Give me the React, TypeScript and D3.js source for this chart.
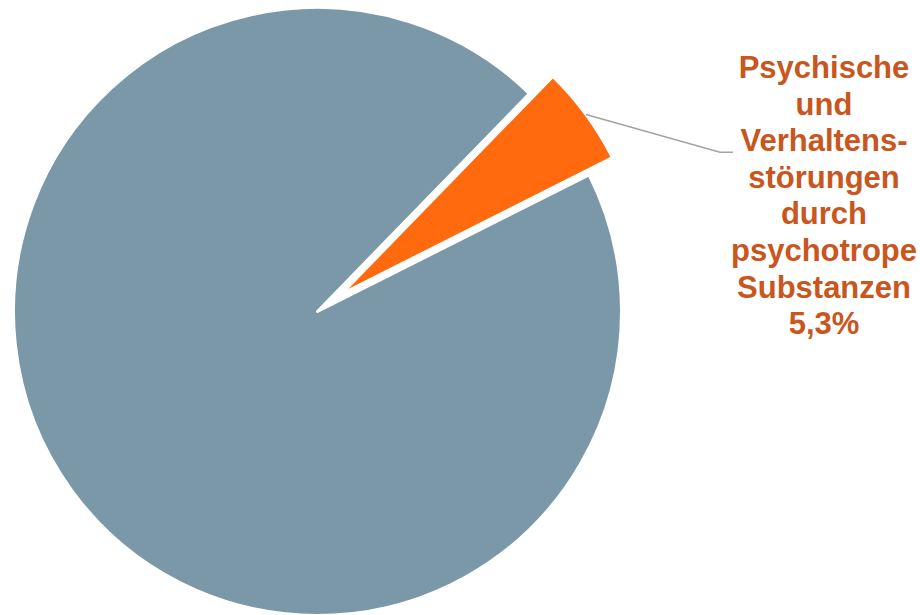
import React from "react";
import * as d3 from "d3";

const categories = ["Übrige", "Psychische und Verhaltensstörungen durch psychotrope Substanzen"];
const values = [94.7, 5.3];
const labelLines = ["Psychische", "und", "Verhaltens-", "störungen", "durch", "psychotrope", "Substanzen", "5,3%"];

const W = 920;
const H = 615;
const cx = 317.5;
const cy = 311.5;
const R = 304;
const explode = 29;
const deg = Math.PI / 180;

export default function App() {
  // order: orange slice first, then rest
  const data = [
    { name: categories[1], value: values[1], color: "#FF6A0E", explode: true },
    { name: categories[0], value: values[0], color: "#7A98A8", explode: false },
  ];
  const pie = d3
    .pie<any>()
    .sort(null)
    .value((d: any) => d.value)
    .startAngle(44.2 * deg)
    .endAngle(44.2 * deg + 2 * Math.PI);
  const arcs = pie(data);
  const arcGen = d3.arc<any>().innerRadius(0).outerRadius(R);

  const labelX = 824;
  const firstBaseline = 78;
  const lineH = 36.6;
  const fontSize = 31;

  const orange = arcs[0];
  const mid = (orange.startAngle + orange.endAngle) / 2;
  const ox = Math.sin(mid) * explode;
  const oy = -Math.cos(mid) * explode;
  const sx = cx + ox + Math.sin(mid) * R;
  const sy = cy + oy - Math.cos(mid) * R;
  const elbowX = 720;
  const elbowY = 152.3;
  const endX = 733;

  return (
    <svg
      width={W}
      height={H}
      style={{ position: "absolute", left: 0, top: 0, background: "#fff" }}
    >
      <g transform={`translate(${cx},${cy})`}>
        {arcs.map((a, i) => {
          const m = (a.startAngle + a.endAngle) / 2;
          const dx = a.data.explode ? Math.sin(m) * explode : 0;
          const dy = a.data.explode ? -Math.cos(m) * explode : 0;
          return (
            <path
              key={i}
              d={arcGen(a) as string}
              transform={`translate(${dx},${dy})`}
              fill={a.data.color}
              stroke="#fff"
              strokeWidth={3}
              strokeLinejoin="round"
            />
          );
        })}
      </g>
      <polyline
        points={`${sx},${sy} ${elbowX},${elbowY} ${endX},${elbowY}`}
        fill="none"
        stroke="#A3A3A3"
        strokeWidth={1.5}
      />
      <text
        fontFamily="'Liberation Sans', Arial, Helvetica, sans-serif"
        fontWeight="bold"
        fontSize={fontSize}
        fill="#C8561D"
        textAnchor="middle"
      >
        {labelLines.map((t, i) => (
          <tspan key={i} x={labelX} y={firstBaseline + i * lineH}>
            {t}
          </tspan>
        ))}
      </text>
    </svg>
  );
}
